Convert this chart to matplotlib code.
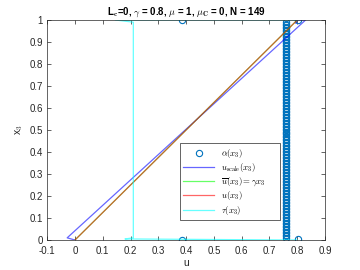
import numpy as np
import matplotlib
matplotlib.use('Agg')
import matplotlib.pyplot as plt

plt.rcParams['mathtext.fontset'] = 'cm'
plt.rcParams['font.family'] = ['Liberation Sans', 'DejaVu Sans']

# alpha(x3): four outliers at the ends and a dense column near u = 0.76
x3_col = np.linspace(0.01, 0.99, 145)
alpha_u = [0.385, 0.803] + [0.76] * len(x3_col) + [0.385, 0.803]
alpha_x3 = [0.0, 0.005] + list(x3_col) + [1.0, 1.0]

# u_scale(x3)
uscale_u = [0.0, -0.028, 0.83, 0.80, 0.795]
uscale_x3 = [0.0, 0.01, 1.0, 1.0, 0.985]

# ubar(x3) = gamma * x3 and u(x3)
gamma = 0.8
line_x3 = [0.0, 1.0]
ubar_u = [0.0, gamma]
u_u = [0.0, 0.80]

# tau(x3)
tau_u = [0.80, 0.18, 0.21, 0.21, 0.145, 0.80]
tau_x3 = [0.0, 0.005, 0.01, 0.99, 1.0, 1.0]

fig = plt.figure(figsize=(3.6, 2.7), dpi=100)
ax = fig.add_axes([0.131, 0.111, 0.772, 0.815])

ax.plot(alpha_u, alpha_x3, 'o', ms=4.5, mfc='none', mec='#0072BD', mew=0.8,
        label=r'$\alpha(x_3)$')
ax.plot(uscale_u, uscale_x3, color=(0, 0, 1, 0.6), lw=0.9,
        label=r'$u_{\rm scale}(x_3)$')
ax.plot(ubar_u, line_x3, color=(0, 1, 0, 0.6), lw=0.9,
        label=r'$\overline{u}(x_3) = \gamma x_3$')
ax.plot(u_u, line_x3, color=(1, 0, 0, 0.6), lw=0.9,
        label=r'$u(x_3)$')
ax.plot(tau_u, tau_x3, color=(0, 1, 1, 0.6), lw=0.9,
        label=r'$\tau(x_3)$')

ax.set_xlim(-0.1, 0.9)
ax.set_ylim(0, 1)
ax.set_xticks(np.round(np.arange(-0.1, 0.91, 0.1), 1))
ax.set_yticks(np.round(np.arange(0, 1.01, 0.1), 1))
ax.set_xticklabels(['-0.1', '0', '0.1', '0.2', '0.3', '0.4', '0.5', '0.6',
                    '0.7', '0.8', '0.9'])
ax.set_yticklabels(['0', '0.1', '0.2', '0.3', '0.4', '0.5', '0.6', '0.7',
                    '0.8', '0.9', '1'])
ax.tick_params(direction='in', top=True, right=True, labelsize=7,
               length=3, width=0.5, colors='#262626')
ax.tick_params(axis='x', pad=4)
ax.tick_params(axis='y', pad=3)
for s in ax.spines.values():
    s.set_color('#262626')
    s.set_linewidth(0.5)

ax.set_xlabel('u', fontsize=7.5, color='#262626', labelpad=2)
ax.set_ylabel(r'x$_3$', fontsize=7.5, color='#262626', labelpad=3)
ax.set_title(r'L$_\mathbf{c}$=0, $\mathbf{\gamma}$ = 0.8, $\mathbf{\mu}$ = 1, '
             r'$\mathbf{\mu}_\mathbf{C}$ = 0, N = 149',
             fontsize=7, fontweight='bold', pad=4)

leg = ax.legend(loc='lower left', bbox_to_anchor=(0.462, 0.07, 0.39, 0.336),
                mode='expand', fontsize=6.3, fancybox=False, framealpha=1,
                edgecolor='#262626', handlelength=3.5, borderpad=0.4,
                labelspacing=0.15)
leg.get_frame().set_linewidth(0.5)

fig.savefig('out.png', dpi=100)
